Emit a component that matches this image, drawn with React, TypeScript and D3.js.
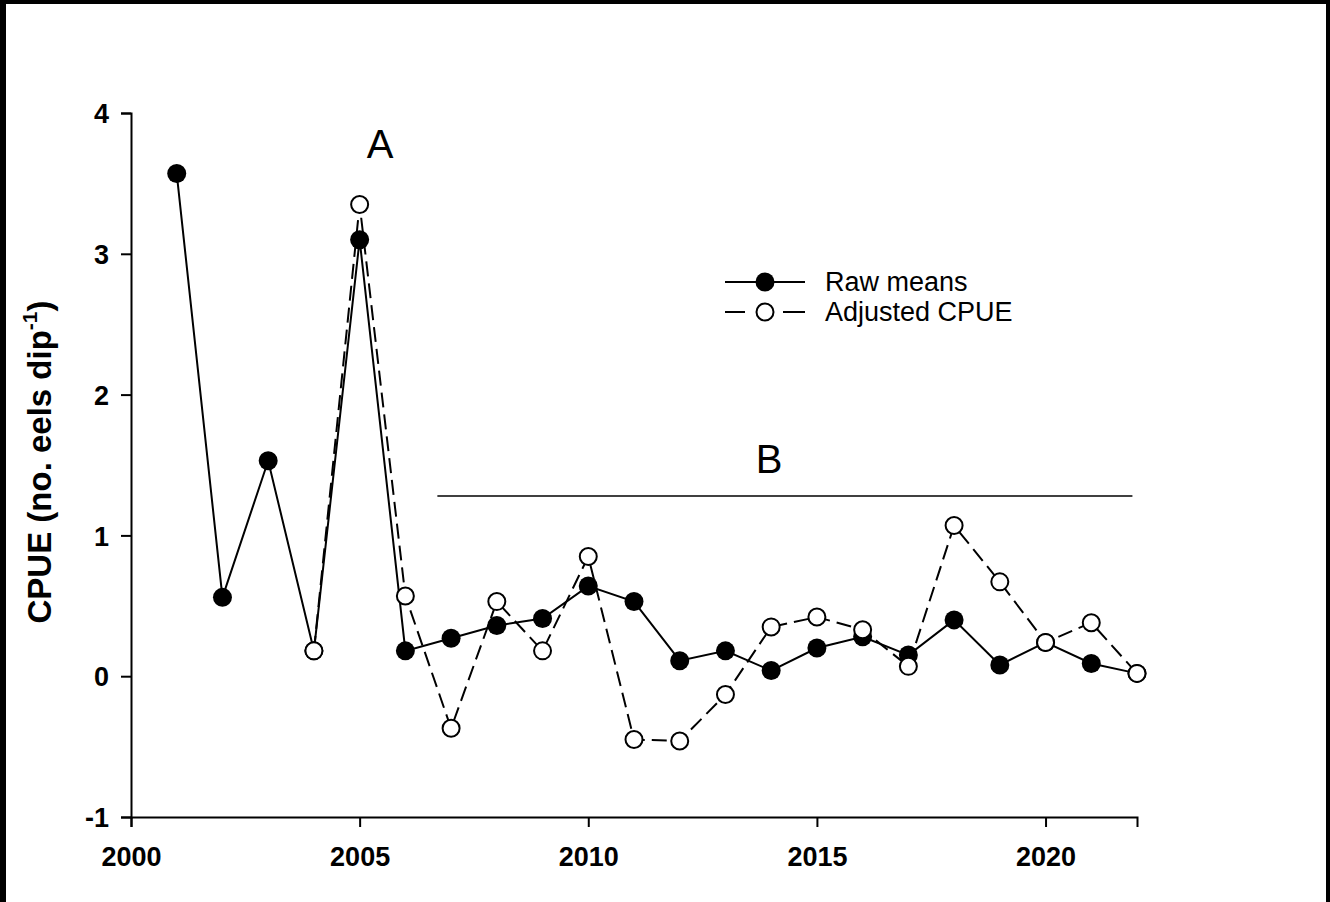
import React, { useEffect, useRef } from "react";
import * as d3 from "d3";

const rawYears = [2001, 2002, 2003, 2004, 2005, 2006, 2007, 2008, 2009, 2010, 2011, 2012, 2013, 2014, 2015, 2016, 2017, 2018, 2019, 2020, 2021, 2022];
const rawMeans = [3.57, 0.56, 1.53, 0.18, 3.10, 0.18, 0.27, 0.36, 0.41, 0.64, 0.53, 0.11, 0.18, 0.04, 0.20, 0.28, 0.15, 0.40, 0.08, 0.24, 0.09, 0.02];

const adjYears = [2004, 2005, 2006, 2007, 2008, 2009, 2010, 2011, 2012, 2013, 2014, 2015, 2016, 2017, 2018, 2019, 2020, 2021, 2022];
const adjustedCpue = [0.18, 3.35, 0.57, -0.37, 0.53, 0.18, 0.85, -0.45, -0.46, -0.13, 0.35, 0.42, 0.33, 0.07, 1.07, 0.67, 0.24, 0.38, 0.02];

const xTicks = [2000, 2005, 2010, 2015, 2020];
const yTicks = [-1, 0, 1, 2, 3, 4];

const legendLabels = ["Raw means", "Adjusted CPUE"];

const W = 1330;
const H = 902;
const FONT = "Arial, 'Liberation Sans', Helvetica, sans-serif";

export default function App() {
  const ref = useRef<SVGSVGElement | null>(null);

  useEffect(() => {
    const svg = d3.select(ref.current);
    svg.selectAll("*").remove();

    // page frame
    svg.append("rect").attr("width", W).attr("height", H).attr("fill", "#000");
    svg.append("rect").attr("x", 6).attr("y", 4).attr("width", 1320).attr("height", H - 4).attr("fill", "#fff");

    const x = d3.scaleLinear().domain([2000, 2022]).range([131, 1137]);
    const y = d3.scaleLinear().domain([-1, 4]).range([817, 113]);

    const g = svg.append("g");

    // axes (plain hyphen for negative labels)
    const fmt = (d: d3.NumberValue) => String(d);
    const xAxis = g.append("g").attr("transform", `translate(0,${y(-1)})`)
      .call(d3.axisBottom(x).tickValues(xTicks).tickFormat(fmt).tickSizeOuter(0).tickSize(10).tickPadding(20));
    const yAxis = g.append("g").attr("transform", `translate(${x(2000)},0)`)
      .call(d3.axisLeft(y).tickValues(yTicks).tickFormat(fmt).tickSizeOuter(0).tickSize(10).tickPadding(12));
    [xAxis, yAxis].forEach((a) => {
      a.select(".domain").attr("stroke", "#000").attr("stroke-width", 2);
      a.selectAll(".tick line").attr("stroke", "#000").attr("stroke-width", 2);
      a.selectAll(".tick text")
        .attr("fill", "#000")
        .attr("font-family", FONT)
        .attr("font-weight", "bold")
        .attr("font-size", 27);
    });
    yAxis.selectAll(".tick text").attr("dy", "0.36em");

    // y axis title
    const title = g.append("text")
      .attr("transform", `translate(51,462) rotate(-90)`)
      .attr("text-anchor", "middle")
      .attr("font-family", FONT)
      .attr("font-weight", "bold")
      .attr("font-size", 33)
      .attr("fill", "#000");
    title.append("tspan").text("CPUE (no. eels dip");
    title.append("tspan").attr("font-size", 21).attr("dy", -14).text("-1");
    title.append("tspan").attr("dy", 14).text(")");

    // group annotations
    g.append("text").attr("x", 380).attr("y", 158).attr("text-anchor", "middle")
      .attr("font-family", FONT).attr("font-size", 40).attr("fill", "#000").text("A");
    g.append("text").attr("x", 769).attr("y", 473).attr("text-anchor", "middle")
      .attr("font-family", FONT).attr("font-size", 40).attr("fill", "#000").text("B");
    g.append("line").attr("x1", x(2006.7)).attr("x2", x(2021.9)).attr("y1", 496).attr("y2", 496)
      .attr("stroke", "#000").attr("stroke-width", 1.5);

    const line = d3.line<[number, number]>().x((d) => x(d[0])).y((d) => y(d[1]));
    const rawPts: [number, number][] = rawYears.map((yr, i) => [yr, rawMeans[i]]);
    const adjPts: [number, number][] = adjYears.map((yr, i) => [yr, adjustedCpue[i]]);

    g.append("path").attr("d", line(rawPts)).attr("fill", "none").attr("stroke", "#000").attr("stroke-width", 2);
    g.append("path").attr("d", line(adjPts)).attr("fill", "none").attr("stroke", "#000").attr("stroke-width", 2)
      .attr("stroke-dasharray", "15,7");

    g.append("g").selectAll("circle").data(rawPts).join("circle")
      .attr("cx", (d) => x(d[0])).attr("cy", (d) => y(d[1])).attr("r", 9.5).attr("fill", "#000");
    g.append("g").selectAll("circle").data(adjPts).join("circle")
      .attr("cx", (d) => x(d[0])).attr("cy", (d) => y(d[1])).attr("r", 8.5)
      .attr("fill", "#fff").attr("stroke", "#000").attr("stroke-width", 2);

    // legend
    const lg = g.append("g");
    const rows = [282, 312];
    lg.append("line").attr("x1", 725).attr("x2", 805).attr("y1", rows[0]).attr("y2", rows[0])
      .attr("stroke", "#000").attr("stroke-width", 2);
    lg.append("circle").attr("cx", 765).attr("cy", rows[0]).attr("r", 9.5).attr("fill", "#000");
    lg.append("line").attr("x1", 725).attr("x2", 805).attr("y1", rows[1]).attr("y2", rows[1])
      .attr("stroke", "#000").attr("stroke-width", 2).attr("stroke-dasharray", "20,38,22");
    lg.append("circle").attr("cx", 765).attr("cy", rows[1]).attr("r", 8.5)
      .attr("fill", "#fff").attr("stroke", "#000").attr("stroke-width", 2);
    legendLabels.forEach((t, i) => {
      lg.append("text").attr("x", 825).attr("y", rows[i] + 9)
        .attr("font-family", FONT).attr("font-size", 27).attr("fill", "#000").text(t);
    });
  }, []);

  return (
    <svg
      ref={ref}
      width={W}
      height={H}
      style={{ position: "absolute", left: 0, top: 0, display: "block" }}
    />
  );
}
